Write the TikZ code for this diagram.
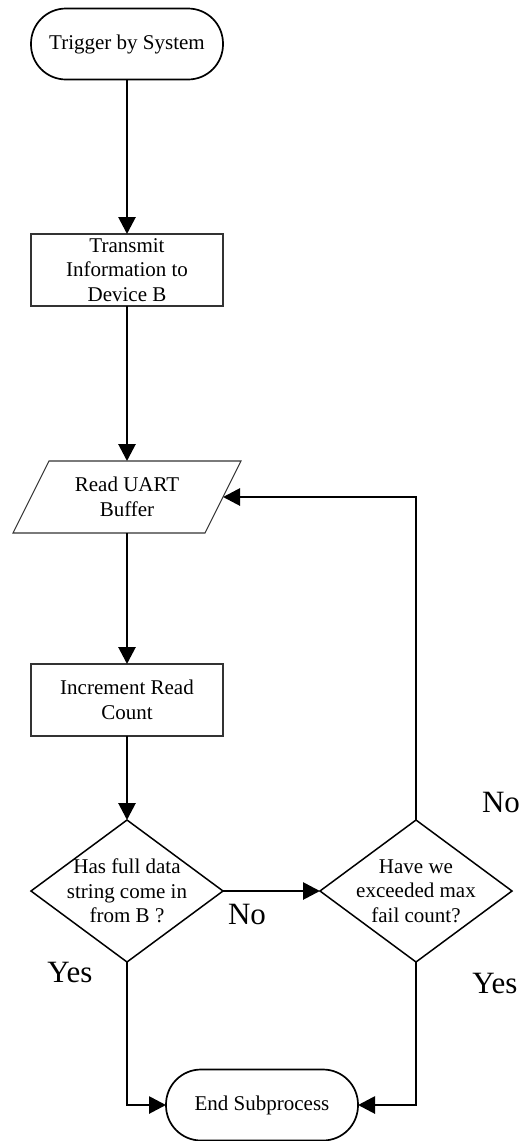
\documentclass[tikz,border=0pt]{standalone}
\usepackage{fontspec}
\setmainfont{Liberation Serif}
\usetikzlibrary{arrows.meta,shapes.geometric,calc}
\begin{document}
\begin{tikzpicture}[x=1pt,y=-1pt,
  every node/.style={font=\fontsize{21}{24.5}\selectfont, align=center, inner sep=0pt, outer sep=0pt},
  terminal/.style={draw, line width=1.7pt, rounded corners=35pt, minimum width=192pt, minimum height=71pt},
  process/.style={draw=black!80, line width=1.1pt, minimum width=192pt, minimum height=72pt},
  ioframe/.style={minimum width=192pt, minimum height=72pt},
  decision/.style={draw, diamond, line width=1.5pt, minimum width=192pt, minimum height=142pt},
  branch/.style={font=\fontsize{31}{34}\selectfont},
  flow/.style={line width=2.8pt, -{Triangle[length=17pt,width=17pt]}}
]
\useasboundingbox (0,0) rectangle (524,1141);

% start / end terminals
\node[terminal] (start) at (127,44) {Trigger by System};
\node[terminal] (end) at (262,1105) {End Subprocess};

% process steps
\node[process] (tx) at (127,270) {Transmit\\Information to\\Device B};
\node[ioframe] (read) at (127,497) {Read UART\\Buffer};
\draw[line width=1.1pt, draw=black!80]
  ($(read.north west)+(18,0)$) -- ($(read.north east)+(18,0)$) --
  ($(read.south east)+(-18,0)$) -- ($(read.south west)+(-18,0)$) -- cycle;
\node[process] (inc) at (127,700) {Increment Read\\Count};

% decisions
\node[decision] (d1) at (127,891) {};
\node (d1text) at (d1.center) {Has full data\\string come in\\from B ?};
\node[decision] (d2) at (416,891) {};
\node (d2text) at (d2.center) {Have we\\exceeded max\\fail count?};

% connectors
\draw[flow] (start.south) -- (tx.north);
\draw[flow] (tx.south) -- (read.north);
\draw[flow] (read.south) -- (inc.north);
\draw[flow] (inc.south) -- (d1.north);
\draw[flow] (d1.east) -- (d2.west);
\draw[flow] (d2.north) |- (read.east);
\draw[flow] (d1.south) |- (end.west);
\draw[flow] (d2.south) |- (end.east);

% branch labels
\node[branch] (noA) at (247,914) {No};
\node[branch] (yesA) at (70,972) {Yes};
\node[branch] (noB) at (501,802) {No};
\node[branch] (yesB) at (495,983) {Yes};
\end{tikzpicture}
\end{document}
